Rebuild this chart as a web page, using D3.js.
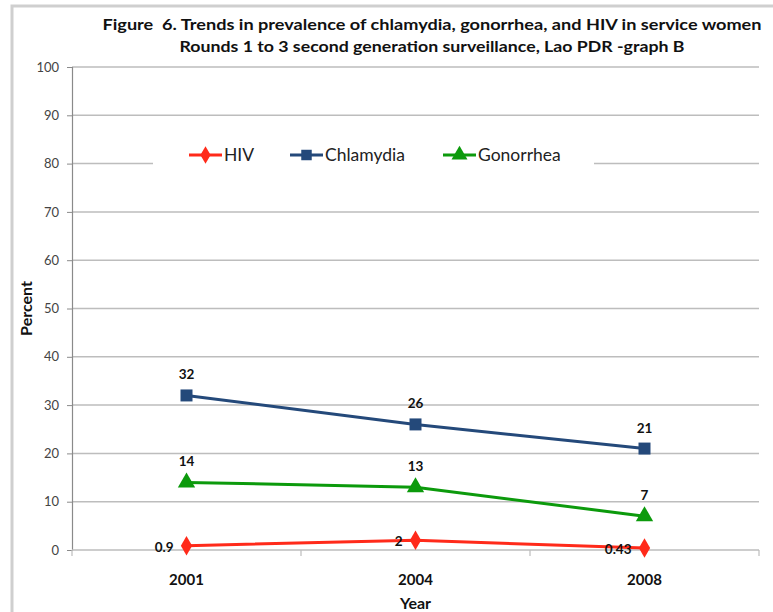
<!DOCTYPE html>
<html><head><meta charset="utf-8">
<script src="https://cdn.jsdelivr.net/npm/d3@7"></script>
<style>body{margin:0;background:#fff}svg{display:block}text{font-family:Lato,"Open Sans",sans-serif;white-space:pre}</style>
</head><body>
<svg id="c" width="773" height="612"></svg>
<script>
const years = ["2001","2004","2008"];
const hiv = [0.9, 2, 0.43];
const chlamydia = [32, 26, 21];
const gonorrhea = [14, 13, 7];
const hivLabels = ["0.9","2","0.43"];
const chlamydiaLabels = ["32","26","21"];
const gonorrheaLabels = ["14","13","7"];
const yTicks = [0,10,20,30,40,50,60,70,80,90,100];
const titleLines = ["Figure  6. Trends in prevalence of chlamydia, gonorrhea, and HIV in service women","Rounds 1 to 3 second generation surveillance, Lao PDR -graph B"];

const series = [
  {name:"HIV", values:hiv, labels:hivLabels, color:"#ff2a1a", marker:"diamond", pos:"left"},
  {name:"Chlamydia", values:chlamydia, labels:chlamydiaLabels, color:"#24497a", marker:"square", pos:"above"},
  {name:"Gonorrhea", values:gonorrhea, labels:gonorrheaLabels, color:"#0c9a0c", marker:"triangle", pos:"above"}
];

const svg = d3.select("#c");
const L=72, R=759, T=67, B=550;
const x = d3.scaleBand().domain(years).range([L,R]);
const y = d3.scaleLinear().domain([0,100]).range([B,T]);

// frame
svg.append("path").attr("d","M12,612V6H773").attr("fill","none").attr("stroke","#cfcfcf").attr("stroke-width",3);

// title
const titleW = [659, 505];
titleLines.forEach((t,i)=>svg.append("text").attr("x",432).attr("y",30+i*22).attr("text-anchor","middle")
  .attr("font-size",15.5).attr("font-weight","bold").attr("fill","#111")
  .attr("textLength",titleW[i]).attr("lengthAdjust","spacingAndGlyphs").text(t));

// gridlines
svg.append("g").selectAll("line").data(yTicks.filter(d=>d>0)).join("line")
  .attr("x1",L).attr("x2",R).attr("y1",d=>y(d)).attr("y2",d=>y(d))
  .attr("stroke","#bdbdbd").attr("stroke-width",1.5);

// y axis
const ya = svg.append("g").attr("transform",`translate(${L},0)`).call(d3.axisLeft(y).tickValues(yTicks).tickSize(5).tickPadding(8));
ya.select(".domain").attr("stroke","#8a8a8a").attr("stroke-width",1.2);
ya.selectAll(".tick line").attr("stroke","#8a8a8a");
ya.selectAll("text").attr("font-size",13).attr("fill","#444").attr("font-family","Lato,sans-serif");

// x axis
const xa = svg.append("g").attr("transform",`translate(0,${B})`).call(d3.axisBottom(x).tickSize(0).tickPadding(24));
xa.select(".domain").remove();
svg.append("line").attr("x1",L).attr("x2",R).attr("y1",B).attr("y2",B).attr("stroke","#bdbdbd").attr("stroke-width",1.5);
const bounds = years.map((d,i)=>x(d)+x.bandwidth()).concat([L]);
svg.append("g").selectAll("line").data(bounds).join("line")
  .attr("x1",d=>d).attr("x2",d=>d).attr("y1",B).attr("y2",B+6).attr("stroke","#bdbdbd").attr("stroke-width",1.2);
xa.selectAll("text").attr("font-size",15).attr("font-weight","bold").attr("fill","#111").attr("font-family","Lato,sans-serif");

// axis titles
svg.append("text").attr("transform",`translate(32,${(T+B)/2}) rotate(-90)`).attr("text-anchor","middle")
  .attr("font-size",16).attr("font-weight","bold").attr("fill","#111").text("Percent");
svg.append("text").attr("x",(L+R)/2).attr("y",609).attr("text-anchor","middle")
  .attr("font-size",16).attr("font-weight","bold").attr("fill","#111").text("Year");

const sym = {diamond:d3.symbol(d3.symbolDiamond,110), square:d3.symbol(d3.symbolSquare,144), triangle:d3.symbol(d3.symbolTriangle,130)};
const cx = d=>x(d)+x.bandwidth()/2;
const line = d3.line().x(d=>cx(d.year)).y(d=>y(d.v));

series.forEach(s=>{
  const pts = years.map((yr,i)=>({year:yr, v:s.values[i], lab:s.labels[i]}));
  svg.append("path").datum(pts).attr("d",line).attr("fill","none").attr("stroke",s.color).attr("stroke-width",3);
  svg.append("g").selectAll("path").data(pts).join("path")
    .attr("transform",d=>`translate(${cx(d.year)},${y(d.v)})`).attr("d",sym[s.marker]()).attr("fill",s.color);
  svg.append("g").selectAll("text").data(pts).join("text")
    .attr("x",d=>s.pos==="left"? cx(d.year)-13 : cx(d.year))
    .attr("y",d=>s.pos==="left"? y(d.v)+6 : y(d.v)-16)
    .attr("text-anchor",s.pos==="left"?"end":"middle")
    .attr("font-size",13.5).attr("font-weight","bold").attr("fill","#111").text(d=>d.lab);
});

// legend
const lg = svg.append("g");
lg.append("rect").attr("x",153).attr("y",143).attr("width",441).attr("height",26).attr("fill","#fff");
const legX = [189, 290, 443];
const legSym = {diamond:d3.symbol(d3.symbolDiamond,90), square:d3.symbol(d3.symbolSquare,110), triangle:d3.symbol(d3.symbolTriangle,110)};
series.forEach((s,i)=>{
  const g = lg.append("g").attr("transform",`translate(${legX[i]},155)`);
  g.append("line").attr("x1",0).attr("x2",33).attr("stroke",s.color).attr("stroke-width",3);
  g.append("path").attr("transform","translate(16.5,0)").attr("d",legSym[s.marker]()).attr("fill",s.color);
  g.append("text").attr("x",35).attr("y",6).attr("font-size",17.5).attr("fill","#222").text(s.name);
});
</script>
</body></html>
